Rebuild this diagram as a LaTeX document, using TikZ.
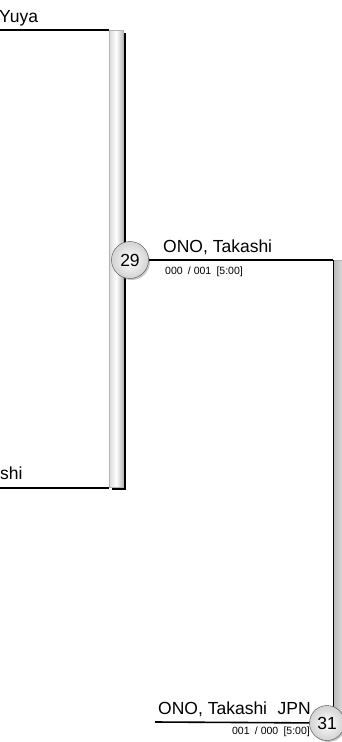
\documentclass[tikz,border=0pt]{standalone}
\usepackage{fontspec}
\setmainfont{Liberation Sans}
\usetikzlibrary{shadows,positioning}

\tikzset{
    bracket/.style={line width=1.6pt, draw=black},
    namelbl/.style={font=\fontsize{17.5}{20}\selectfont, inner sep=0pt, anchor=base west},
    scorelbl/.style={font=\fontsize{10.5}{12}\selectfont, inner sep=0pt, anchor=base west},
    barA/.style={rectangle, draw=gray!60, inner sep=0pt, anchor=north west,
      left color=gray!30, right color=gray!55, middle color=white,
      drop shadow={shadow xshift=2.5pt, shadow yshift=-3pt, opacity=1, fill=black}},
    barB/.style={rectangle, draw=gray!60, inner sep=0pt, anchor=north west,
      left color=gray!55, right color=white},
    bout/.style={circle, draw=black!70, inner sep=0pt, minimum size=37pt,
      inner color=white, outer color=gray!35, font=\fontsize{17.5}{20}\selectfont,
      drop shadow={shadow xshift=1.5pt, shadow yshift=-1.5pt, opacity=0.45}}
  }

\begin{document}
\begin{tikzpicture}[x=1pt, y=-1pt]
    \useasboundingbox (0,0) rectangle (342,742);
    \clip (0,0) rectangle (342,742);

    % left bracket
    \coordinate (inA) at (0,30);
    \coordinate (inB) at (0,488);
    \node[barA, minimum width=14pt, minimum height=457pt] (bar29) at (109,30) {};
    \draw[bracket] (inA) -- (bar29.north west);
    \draw[bracket] (inB) -- (bar29.south west |- inB);
    \node[namelbl] (nameA) at (-1,22) {Yuya};
    \node[namelbl] (nameB) at (0,479) {shi};

    % right bracket
    \node[barB, minimum width=20pt, minimum height=462pt] (bar31) at (333,260) {};
    \draw[line width=1pt] (bar31.north west) -- (bar31.south west);

    \node[bout] (r29) at (130,260) {29};
    \draw[bracket] (r29) -- (bar31.north west);
    \node[namelbl] (win29) at (163,252) {ONO, Takashi};
    \node[scorelbl] (sc29) at (165,274) {000\enspace/ 001\enspace[5:00]};

    \coordinate (inC) at (155,722);
    \node[bout, minimum size=35pt] (r31) at (327,723) {31};
    \draw[bracket] (inC) -- (r31);
    \node[namelbl] (win31) at (158,714) {ONO, Takashi};
    \node[namelbl, anchor=base east] (nat31) at (311,714) {JPN};
    \node[scorelbl, anchor=base east] (sc31) at (310,734) {001\enspace/ 000\enspace[5:00]};
\end{tikzpicture}
\end{document}
